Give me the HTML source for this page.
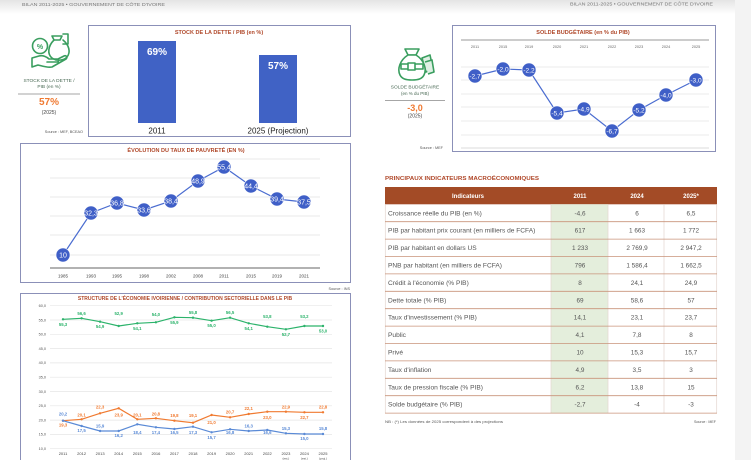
<!DOCTYPE html>
<html><head><meta charset="utf-8"><style>
html,body{margin:0;padding:0;background:#fff;}
svg{display:block;}
text{font-family:"Liberation Sans",sans-serif;}
</style></head><body>
<svg width="751" height="460" viewBox="0 0 751 460" xmlns="http://www.w3.org/2000/svg">
<defs>
<linearGradient id="tg" x1="0" y1="0" x2="0" y2="1"><stop offset="0" stop-color="#e4e4e4"/><stop offset="1" stop-color="#ffffff"/></linearGradient>
</defs>
<rect x="0" y="0" width="751" height="460" fill="#fff"/>
<rect x="0" y="0" width="735" height="14" fill="url(#tg)"/>
<rect x="735" y="0" width="16" height="460" fill="#f3f3f3"/>
<text x="22" y="6" font-size="4.5" fill="#777" textLength="143" lengthAdjust="spacingAndGlyphs">BILAN 2011-2025 • GOUVERNEMENT DE CÔTE D'IVOIRE</text>
<text x="570" y="5.5" font-size="4.5" fill="#777" textLength="143" lengthAdjust="spacingAndGlyphs">BILAN 2011-2025 • GOUVERNEMENT DE CÔTE D'IVOIRE</text>

<!-- Icon 1 -->
<g fill="none" stroke="#3a9e5f" stroke-width="1.6" stroke-linecap="round" stroke-linejoin="round">
<circle cx="40" cy="46" r="7.5"/>
<path d="M52 36 h10 l-2 4 h-6 z"/>
<path d="M63 34 h5 v10 h-5"/>
<path d="M54 40 c-6 6 -7 14 -2 18 c4 3 12 3 15 -1 c4 -5 2 -12 -4 -17"/>
<path d="M32 58 l7 -2 c4 -1 8 1 10 3 h8 c2 0 2 3 0 3 h-10 M32 58 v9 l6 -2 c4 1 10 3 14 2 l14 -8 c2 -2 0 -4 -2 -3 l-8 4"/>
</g>
<text x="40" y="49" font-size="7" font-weight="bold" fill="#3a9e5f" text-anchor="middle">%</text>
<text x="49" y="82" font-size="4.8" fill="#4a6a55" text-anchor="middle">STOCK DE LA DETTE /</text>
<text x="49" y="88" font-size="4.8" fill="#4a6a55" text-anchor="middle">PIB (en %)</text>
<line x1="18" y1="94" x2="80" y2="94" stroke="#888" stroke-width="0.7"/>
<text x="49" y="105" font-size="10" font-weight="bold" fill="#f07a32" text-anchor="middle">57%</text>
<text x="49" y="114" font-size="5" fill="#444" text-anchor="middle">(2025)</text>
<text x="83" y="133" font-size="3.8" fill="#555" text-anchor="end">Source : MEF, BCEAO</text>

<!-- Debt chart -->
<rect x="88.5" y="25.5" width="262" height="111" fill="#fff" stroke="#8b90b8" stroke-width="1"/>
<text x="219" y="34" font-size="5.5" font-weight="bold" fill="#b0482a" text-anchor="middle">STOCK DE LA DETTE / PIB (en %)</text>
<rect x="138" y="41" width="38" height="82" fill="#4062c5"/>
<rect x="259" y="55" width="38" height="68" fill="#4062c5"/>
<text x="157" y="55" font-size="10" font-weight="bold" fill="#fff" text-anchor="middle">69%</text>
<text x="278" y="69" font-size="10" font-weight="bold" fill="#fff" text-anchor="middle">57%</text>
<text x="157" y="133.5" font-size="8" fill="#222" text-anchor="middle">2011</text>
<text x="278" y="133.5" font-size="8" fill="#222" text-anchor="middle">2025 (Projection)</text>

<!-- Icon 2 money bag -->
<g fill="none" stroke="#3a9e5f" stroke-width="1.6" stroke-linejoin="round">
<path d="M422 58 l8 -3 l3 14 l-7 3 z" fill="#dff0e4"/>
<path d="M425 62 l7 -2 l2 12 l-6 2" fill="#dff0e4"/>
<path d="M405 49 h14 l-3 6 h-8 z" fill="#fff"/>
<path d="M408 55 c-8 5 -11 14 -8 20 c2 4 6 5 12 5 c6 0 10 -1 12 -5 c3 -6 0 -15 -8 -20 z" fill="#fff"/>
<rect x="401" y="64" width="22" height="5" fill="#fff"/>
<rect x="408" y="63" width="7" height="7" fill="#fff"/>
</g>
<text x="415" y="88.5" font-size="4.8" fill="#4a6a55" text-anchor="middle">SOLDE BUDGÉTAIRE</text>
<text x="415" y="95" font-size="4.5" fill="#4a6a55" text-anchor="middle">(en % du PIB)</text>
<line x1="385" y1="100.5" x2="445" y2="100.5" stroke="#888" stroke-width="0.7"/>
<text x="415" y="111" font-size="9" font-weight="bold" fill="#f07a32" text-anchor="middle">-3,0</text>
<text x="415" y="117.5" font-size="5" fill="#444" text-anchor="middle">(2025)</text>
<text x="443" y="149" font-size="3.8" fill="#555" text-anchor="end">Source : MEF</text>

<!-- Budget chart -->
<rect x="452.5" y="25.5" width="263" height="126" fill="#fff" stroke="#8b90b8" stroke-width="1"/>
<text x="583" y="34" font-size="5.5" font-weight="bold" fill="#b0482a" text-anchor="middle">SOLDE BUDGÉTAIRE (en % du PIB)</text>
<line x1="461" y1="40" x2="709" y2="40" stroke="#999" stroke-width="1"/>
<g font-size="3.8" fill="#666" text-anchor="middle">
<text x="475" y="48">2011</text><text x="503" y="48">2015</text><text x="529" y="48">2019</text><text x="557" y="48">2020</text><text x="584" y="48">2021</text><text x="612" y="48">2022</text><text x="639" y="48">2023</text><text x="666" y="48">2024</text><text x="696" y="48">2025</text>
</g>
<g stroke="#e4e4e4" stroke-width="0.8">
<line x1="461" y1="67" x2="709" y2="67"/><line x1="461" y1="80" x2="709" y2="80"/><line x1="461" y1="94" x2="709" y2="94"/><line x1="461" y1="107" x2="709" y2="107"/><line x1="461" y1="121" x2="709" y2="121"/><line x1="461" y1="135" x2="709" y2="135"/>
</g>
<line x1="461" y1="148" x2="709" y2="148" stroke="#cfcfcf" stroke-width="0.8"/>
<polyline points="475,76 503,69 529,70 557,113 584,109 612,131 639,110 666,95 696,80" fill="none" stroke="#4a6cd0" stroke-width="1.2"/>
<g fill="#3f5fc7" stroke="#fff" stroke-width="0.6">
<circle cx="475" cy="76" r="7"/><circle cx="503" cy="69" r="7"/><circle cx="529" cy="70" r="7"/><circle cx="557" cy="113" r="7"/><circle cx="584" cy="109" r="7"/><circle cx="612" cy="131" r="7"/><circle cx="639" cy="110" r="7"/><circle cx="666" cy="95" r="7"/><circle cx="696" cy="80" r="7"/>
</g>
<g font-size="6.5" fill="#fff" text-anchor="middle">
<text x="475" y="78.4">-2,7</text><text x="503" y="71.4">-2,0</text><text x="529" y="72.4">-2,2</text><text x="557" y="115.4">-5,4</text><text x="584" y="111.4">-4,9</text><text x="612" y="133.4">-6,7</text><text x="639" y="112.4">-5,2</text><text x="666" y="97.4">-4,0</text><text x="696" y="82.4">-3,0</text>
</g>

<!-- Poverty chart -->
<rect x="20.5" y="143.5" width="330" height="139" fill="#fff" stroke="#8b90b8" stroke-width="1"/>
<text x="186" y="152" font-size="5.5" font-weight="bold" fill="#b0482a" text-anchor="middle">ÉVOLUTION DU TAUX DE PAUVRETÉ (EN %)</text>
<g stroke="#e2e2e2" stroke-width="0.8">
<line x1="50" y1="159" x2="320" y2="159"/><line x1="50" y1="178" x2="320" y2="178"/><line x1="50" y1="197" x2="320" y2="197"/><line x1="50" y1="216" x2="320" y2="216"/><line x1="50" y1="235" x2="320" y2="235"/><line x1="50" y1="255" x2="320" y2="255"/>
</g>
<line x1="50" y1="268" x2="320" y2="268" stroke="#999" stroke-width="1.5"/>
<polyline points="63,255 91,213 117,203 144,210 171,201 198,181 224,167 251,186 277,199 304,202" fill="none" stroke="#4a6cd0" stroke-width="1.2"/>
<g fill="#3f5fc7" stroke="#fff" stroke-width="0.6">
<circle cx="63" cy="255" r="7"/><circle cx="91" cy="213" r="7"/><circle cx="117" cy="203" r="7"/><circle cx="144" cy="210" r="7"/><circle cx="171" cy="201" r="7"/><circle cx="198" cy="181" r="7"/><circle cx="224" cy="167" r="7"/><circle cx="251" cy="186" r="7"/><circle cx="277" cy="199" r="7"/><circle cx="304" cy="202" r="7"/>
</g>
<g font-size="7" fill="#fff" text-anchor="middle">
<text x="63" y="257.6">10</text><text x="91" y="215.6">32,3</text><text x="117" y="205.6">36,8</text><text x="144" y="212.6">33,6</text><text x="171" y="203.6">38,4</text><text x="198" y="183.6">48,9</text><text x="224" y="169.6">55,4</text><text x="251" y="188.6">44,4</text><text x="277" y="201.6">39,4</text><text x="304" y="204.6">37,5</text>
</g>
<g font-size="4.5" fill="#444" text-anchor="middle">
<text x="63" y="277.5">1985</text><text x="91" y="277.5">1993</text><text x="117" y="277.5">1995</text><text x="144" y="277.5">1998</text><text x="171" y="277.5">2002</text><text x="198" y="277.5">2008</text><text x="224" y="277.5">2011</text><text x="251" y="277.5">2015</text><text x="277" y="277.5">2019</text><text x="304" y="277.5">2021</text>
</g>
<text x="350" y="290" font-size="3.8" fill="#555" text-anchor="end">Source : INS</text>

<!-- Structure chart -->
<rect x="20.5" y="293.5" width="330" height="175" fill="#fff" stroke="#8b90b8" stroke-width="1"/>
<text x="185" y="300" font-size="5" font-weight="bold" fill="#b0482a" text-anchor="middle">STRUCTURE DE L'ÉCONOMIE IVOIRIENNE / CONTRIBUTION SECTORIELLE DANS LE PIB</text>
<g stroke="#e6e6e6" stroke-width="0.7">
<line x1="50" y1="305.7" x2="332" y2="305.7"/><line x1="50" y1="320" x2="332" y2="320"/><line x1="50" y1="334.3" x2="332" y2="334.3"/><line x1="50" y1="348.6" x2="332" y2="348.6"/><line x1="50" y1="362.9" x2="332" y2="362.9"/><line x1="50" y1="377.2" x2="332" y2="377.2"/><line x1="50" y1="391.5" x2="332" y2="391.5"/><line x1="50" y1="405.8" x2="332" y2="405.8"/><line x1="50" y1="420.1" x2="332" y2="420.1"/><line x1="50" y1="434.4" x2="332" y2="434.4"/><line x1="50" y1="448.7" x2="332" y2="448.7"/>
</g>
<g font-size="3.8" fill="#555" text-anchor="end">
<text x="46" y="307">60,0</text><text x="46" y="321.3">55,0</text><text x="46" y="335.6">50,0</text><text x="46" y="349.9">45,0</text><text x="46" y="364.2">40,0</text><text x="46" y="378.5">35,0</text><text x="46" y="392.8">30,0</text><text x="46" y="407.1">25,0</text><text x="46" y="421.4">20,0</text><text x="46" y="435.7">15,0</text><text x="46" y="450">10,0</text>
</g>
<!-- green -->
<polyline points="63,319.3 81.6,318.3 100.1,321.7 118.7,326 137.3,323.3 155.9,322.3 174.4,317.3 193,317.7 211.6,320.7 230.1,317.7 248.7,323.3 267.3,326.7 285.9,329.3 304.4,326 323,326" fill="none" stroke="#2cb36b" stroke-width="1.2"/>
<g fill="#2cb36b">
<circle cx="63" cy="319.3" r="1.2"/><circle cx="81.6" cy="318.3" r="1.2"/><circle cx="100.1" cy="321.7" r="1.2"/><circle cx="118.7" cy="326" r="1.2"/><circle cx="137.3" cy="323.3" r="1.2"/><circle cx="155.9" cy="322.3" r="1.2"/><circle cx="174.4" cy="317.3" r="1.2"/><circle cx="193" cy="317.7" r="1.2"/><circle cx="211.6" cy="320.7" r="1.2"/><circle cx="230.1" cy="317.7" r="1.2"/><circle cx="248.7" cy="323.3" r="1.2"/><circle cx="267.3" cy="326.7" r="1.2"/><circle cx="285.9" cy="329.3" r="1.2"/><circle cx="304.4" cy="326" r="1.2"/><circle cx="323" cy="326" r="1.2"/>
</g>
<g font-size="4.3" font-weight="bold" fill="#2cb36b" text-anchor="middle">
<text x="63" y="325.8">55,3</text><text x="81.6" y="314.8">56,6</text><text x="100.1" y="328.2">54,9</text><text x="118.7" y="315">52,9</text><text x="137.3" y="329.8">54,1</text><text x="155.9" y="316">54,0</text><text x="174.4" y="323.8">55,9</text><text x="193" y="314.2">55,8</text><text x="211.6" y="327.2">55,0</text><text x="230.1" y="314.2">56,5</text><text x="248.7" y="329.8">54,1</text><text x="267.3" y="318">53,8</text><text x="285.9" y="335.8">52,7</text><text x="304.4" y="318">53,2</text><text x="323" y="332.5">53,0</text>
</g>
<!-- orange -->
<polyline points="63,420.7 81.6,419.3 100.1,413.3 118.7,408.3 137.3,419.3 155.9,418.3 174.4,420.7 193,422.7 211.6,415 230.1,417.3 248.7,414 267.3,411.7 285.9,411.7 304.4,412.3 323,412.3" fill="none" stroke="#f07a30" stroke-width="1.2"/>
<g fill="#f07a30">
<circle cx="63" cy="420.7" r="1.2"/><circle cx="81.6" cy="419.3" r="1.2"/><circle cx="100.1" cy="413.3" r="1.2"/><circle cx="118.7" cy="408.3" r="1.2"/><circle cx="137.3" cy="419.3" r="1.2"/><circle cx="155.9" cy="418.3" r="1.2"/><circle cx="174.4" cy="420.7" r="1.2"/><circle cx="193" cy="422.7" r="1.2"/><circle cx="211.6" cy="415" r="1.2"/><circle cx="230.1" cy="417.3" r="1.2"/><circle cx="248.7" cy="414" r="1.2"/><circle cx="267.3" cy="411.7" r="1.2"/><circle cx="285.9" cy="411.7" r="1.2"/><circle cx="304.4" cy="412.3" r="1.2"/><circle cx="323" cy="412.3" r="1.2"/>
</g>
<g font-size="4.3" font-weight="bold" fill="#f07a30" text-anchor="middle">
<text x="63" y="426.5">19,3</text><text x="81.6" y="416.5">20,1</text><text x="100.1" y="408.5">22,3</text><text x="118.7" y="416.5">23,9</text><text x="137.3" y="416.5">20,1</text><text x="155.9" y="415.5">20,8</text><text x="174.4" y="416.8">19,8</text><text x="193" y="417.2">19,1</text><text x="211.6" y="424.2">21,0</text><text x="230.1" y="413.5">20,7</text><text x="248.7" y="410">22,1</text><text x="267.3" y="418.8">23,0</text><text x="285.9" y="408.7">22,9</text><text x="304.4" y="418.8">22,7</text><text x="323" y="408.7">22,8</text>
</g>
<!-- blue -->
<polyline points="63,420.7 81.6,426 100.1,431 118.7,431 137.3,424.3 155.9,427.3 174.4,429 193,426.7 211.6,432.3 230.1,429.3 248.7,431 267.3,430 285.9,433.3 304.4,434 323,434" fill="none" stroke="#5a8ad6" stroke-width="1.2"/>
<g fill="#5a8ad6">
<circle cx="63" cy="420.7" r="1.2"/><circle cx="81.6" cy="426" r="1.2"/><circle cx="100.1" cy="431" r="1.2"/><circle cx="118.7" cy="431" r="1.2"/><circle cx="137.3" cy="424.3" r="1.2"/><circle cx="155.9" cy="427.3" r="1.2"/><circle cx="174.4" cy="429" r="1.2"/><circle cx="193" cy="426.7" r="1.2"/><circle cx="211.6" cy="432.3" r="1.2"/><circle cx="230.1" cy="429.3" r="1.2"/><circle cx="248.7" cy="431" r="1.2"/><circle cx="267.3" cy="430" r="1.2"/><circle cx="285.9" cy="433.3" r="1.2"/><circle cx="304.4" cy="434" r="1.2"/><circle cx="323" cy="434" r="1.2"/>
</g>
<g font-size="4.3" font-weight="bold" fill="#5a8ad6" text-anchor="middle">
<text x="63" y="415.5">20,2</text><text x="81.6" y="432.2">17,5</text><text x="100.1" y="427.5">15,9</text><text x="118.7" y="437.2">16,2</text><text x="137.3" y="434.2">18,4</text><text x="155.9" y="434.2">17,4</text><text x="174.4" y="434.2">16,5</text><text x="193" y="434.2">17,3</text><text x="211.6" y="438.8">15,7</text><text x="230.1" y="434.2">16,8</text><text x="248.7" y="427.5">16,3</text><text x="267.3" y="434.2">16,6</text><text x="285.9" y="429.8">15,3</text><text x="304.4" y="439.8">15,0</text><text x="323" y="429.8">15,8</text>
</g>
<g font-size="4" fill="#444" text-anchor="middle">
<text x="63" y="455">2011</text><text x="81.6" y="455">2012</text><text x="100.1" y="455">2013</text><text x="118.7" y="455">2014</text><text x="137.3" y="455">2015</text><text x="155.9" y="455">2016</text><text x="174.4" y="455">2017</text><text x="193" y="455">2018</text><text x="211.6" y="455">2019</text><text x="230.1" y="455">2020</text><text x="248.7" y="455">2021</text><text x="267.3" y="455">2022</text><text x="285.9" y="455">2023</text><text x="304.4" y="455">2024</text><text x="323" y="455">2025</text>
</g>
<g font-size="3" fill="#444" text-anchor="middle">
<text x="285.9" y="459.5">(est.)</text><text x="304.4" y="459.5">(est.)</text><text x="323" y="459.5">(proj.)</text>
</g>

<!-- Table -->
<text x="385" y="180" font-size="5" font-weight="bold" fill="#b0482a" textLength="154" lengthAdjust="spacingAndGlyphs">PRINCIPAUX INDICATEURS MACROÉCONOMIQUES</text>
<rect x="385" y="187" width="332" height="17.3" fill="#a34b26"/>
<rect x="551" y="204.3" width="57" height="208.8" fill="#e4eedc"/>
<g font-size="6" font-weight="bold" fill="#fff" text-anchor="middle">
<text x="468" y="198">Indicateurs</text><text x="580" y="198">2011</text><text x="637" y="198">2024</text><text x="691" y="198">2025*</text>
</g>
<g stroke="#e3d6cf" stroke-width="0.7">
<line x1="551" y1="204.3" x2="551" y2="413.1"/><line x1="608" y1="204.3" x2="608" y2="413.1"/><line x1="664" y1="204.3" x2="664" y2="413.1"/>
<line x1="385.3" y1="204.3" x2="385.3" y2="413.1"/><line x1="716.7" y1="204.3" x2="716.7" y2="413.1"/>
</g>
<g stroke="#c9937a" stroke-width="0.8">
<line x1="385" y1="221.7" x2="717" y2="221.7"/><line x1="385" y1="239.1" x2="717" y2="239.1"/><line x1="385" y1="256.5" x2="717" y2="256.5"/><line x1="385" y1="273.9" x2="717" y2="273.9"/><line x1="385" y1="291.3" x2="717" y2="291.3"/><line x1="385" y1="308.7" x2="717" y2="308.7"/><line x1="385" y1="326.1" x2="717" y2="326.1"/><line x1="385" y1="343.5" x2="717" y2="343.5"/><line x1="385" y1="360.9" x2="717" y2="360.9"/><line x1="385" y1="378.3" x2="717" y2="378.3"/><line x1="385" y1="395.7" x2="717" y2="395.7"/><line x1="385" y1="413.1" x2="717" y2="413.1"/>
</g>
<g font-size="6.6" fill="#555">
<text x="388" y="215.3">Croissance réelle du PIB (en %)</text>
<text x="388" y="232.7">PIB par habitant prix courant (en milliers de FCFA)</text>
<text x="388" y="250.1">PIB par habitant en dollars US</text>
<text x="388" y="267.5">PNB par habitant (en milliers de FCFA)</text>
<text x="388" y="284.9">Crédit à l'économie (% PIB)</text>
<text x="388" y="302.3">Dette totale (% PIB)</text>
<text x="388" y="319.7">Taux d'investissement (% PIB)</text>
<text x="388" y="337.1">Public</text>
<text x="388" y="354.5">Privé</text>
<text x="388" y="371.9">Taux d'inflation</text>
<text x="388" y="389.3">Taux de pression fiscale (% PIB)</text>
<text x="388" y="406.7">Solde budgétaire (% PIB)</text>
</g>
<g font-size="6.4" fill="#555" text-anchor="middle">
<text x="580" y="215.3">-4,6</text><text x="637" y="215.3">6</text><text x="691" y="215.3">6,5</text>
<text x="580" y="232.7">617</text><text x="637" y="232.7">1 663</text><text x="691" y="232.7">1 772</text>
<text x="580" y="250.1">1 233</text><text x="637" y="250.1">2 769,9</text><text x="691" y="250.1">2 947,2</text>
<text x="580" y="267.5">796</text><text x="637" y="267.5">1 586,4</text><text x="691" y="267.5">1 662,5</text>
<text x="580" y="284.9">8</text><text x="637" y="284.9">24,1</text><text x="691" y="284.9">24,9</text>
<text x="580" y="302.3">69</text><text x="637" y="302.3">58,6</text><text x="691" y="302.3">57</text>
<text x="580" y="319.7">14,1</text><text x="637" y="319.7">23,1</text><text x="691" y="319.7">23,7</text>
<text x="580" y="337.1">4,1</text><text x="637" y="337.1">7,8</text><text x="691" y="337.1">8</text>
<text x="580" y="354.5">10</text><text x="637" y="354.5">15,3</text><text x="691" y="354.5">15,7</text>
<text x="580" y="371.9">4,9</text><text x="637" y="371.9">3,5</text><text x="691" y="371.9">3</text>
<text x="580" y="389.3">6,2</text><text x="637" y="389.3">13,8</text><text x="691" y="389.3">15</text>
<text x="580" y="406.7">-2,7</text><text x="637" y="406.7">-4</text><text x="691" y="406.7">-3</text>
</g>
<text x="385" y="423" font-size="3.6" fill="#555" textLength="118" lengthAdjust="spacingAndGlyphs">NB : (*) Les données de 2025 correspondent à des projections</text>
<text x="716" y="423" font-size="3.6" fill="#555" text-anchor="end">Source : MEF</text>
</svg>
</body></html>
